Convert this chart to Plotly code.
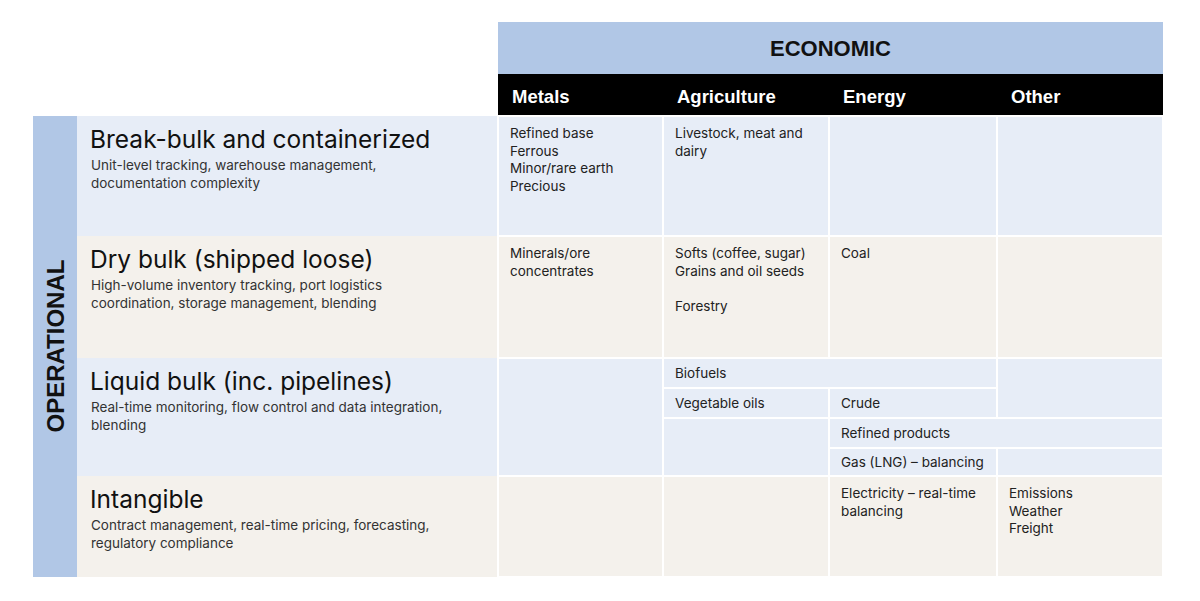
import plotly.graph_objects as go

group_top = "ECONOMIC"
group_side = "OPERATIONAL"
columns = ["Metals", "Agriculture", "Energy", "Other"]
row_titles = ["Break-bulk and containerized", "Dry bulk (shipped loose)",
              "Liquid bulk (inc. pipelines)", "Intangible"]
row_desc = ["Unit-level tracking, warehouse management,<br>documentation complexity",
            "High-volume inventory tracking, port logistics<br>coordination, storage management, blending",
            "Real-time monitoring, flow control and data integration,<br>blending",
            "Contract management, real-time pricing, forecasting,<br>regulatory compliance"]
cell_break_bulk = ["Refined base<br>Ferrous<br>Minor/rare earth<br>Precious", "Livestock, meat and<br>dairy", "", ""]
cell_dry_bulk = ["Minerals/ore<br>concentrates", "Softs (coffee, sugar)<br>Grains and oil seeds<br><br>Forestry", "Coal", ""]
cell_intangible = ["", "", "Electricity – real-time<br>balancing", "Emissions<br>Weather<br>Freight"]
liquid_items = ["Biofuels", "Vegetable oils", "Crude", "Refined products", "Gas (LNG) – balancing"]

# layout geometry (pixels)
colx = [498, 663, 829, 997, 1163]
rowy = [116, 236, 358, 476, 577]
sub = [358, 388, 418, 448, 476]
BLUE, BEIGE, HEAD = "#E7EDF7", "#F4F1EC", "#B1C7E6"
fills = [BLUE, BEIGE, BLUE, BEIGE]
BODY = "Inter, Roboto, sans-serif"
HFONT = "Liberation Sans, Arial, sans-serif"

fig = go.Figure()
shapes, ann = [], []

def rect(x0, y0, x1, y1, c, lw=2):
    shapes.append(dict(type="rect", x0=x0, y0=y0, x1=x1, y1=y1, fillcolor=c,
                       line=dict(color="white", width=lw), layer="below"))

def txt(x, y, s, size=13.5, color="#222", font=BODY, xa="left", ya="top", angle=0):
    ann.append(dict(x=x, y=y, text=s, showarrow=False, xanchor=xa, yanchor=ya, align="left",
                    textangle=angle, font=dict(size=size, color=color, family=font)))

# headers
rect(colx[0], 22, colx[-1], 74, HEAD, 0)
txt((colx[0] + colx[-1]) / 2, 48, "<b>" + group_top + "</b>", 22, "#111", HFONT, "center", "middle")
rect(colx[0], 74, colx[-1], 116, "black", 0)
for i, c in enumerate(columns):
    txt(colx[i] + 12, 96, "<b>" + c + "</b>", 18.5, "white", HFONT, "left", "middle")
rect(33, rowy[0], 77, rowy[-1], HEAD, 0)
txt(55, (rowy[0] + rowy[-1]) / 2, "<b>" + group_side + "</b>", 24, "#111", HFONT, "center", "middle", -90)

# row label cells
for r in range(4):
    rect(77, rowy[r], colx[0], rowy[r + 1], fills[r], 0)
    txt(88, rowy[r] + 6, row_titles[r], 24.5, "#111")
    txt(89, rowy[r] + 39, row_desc[r], 13.5, "#333")

# simple rows
for r, cells in [(0, cell_break_bulk), (1, cell_dry_bulk), (3, cell_intangible)]:
    for c in range(4):
        rect(colx[c], rowy[r], colx[c + 1], rowy[r + 1], fills[r])
        if cells[c]:
            txt(colx[c] + 10, rowy[r] + 7, cells[c], 13.5, "#222")

# liquid bulk row
rect(colx[0], sub[0], colx[1], sub[4], BLUE)
liq = [(1, 3, 0, 1, 0), (1, 2, 1, 2, 1), (2, 3, 1, 2, 2), (2, 4, 2, 3, 3), (2, 3, 3, 4, 4)]
for c0, c1, s0, s1, k in liq:
    rect(colx[c0], sub[s0], colx[c1], sub[s1], BLUE)
    txt(colx[c0] + 10, (sub[s0] + sub[s1]) / 2, liquid_items[k], 13.5, "#222", ya="middle")
rect(colx[1], sub[2], colx[2], sub[4], BLUE)
rect(colx[3], sub[0], colx[4], sub[2], BLUE)
rect(colx[3], sub[3], colx[4], sub[4], BLUE)

fig.update_layout(width=1200, height=601, margin=dict(l=0, r=0, t=0, b=0),
                  plot_bgcolor="white", paper_bgcolor="white", shapes=shapes, annotations=ann,
                  xaxis=dict(range=[8, 1208], visible=False, fixedrange=True),
                  yaxis=dict(range=[609, 8], visible=False, fixedrange=True),
                  showlegend=False)
fig.write_html("out.html")
